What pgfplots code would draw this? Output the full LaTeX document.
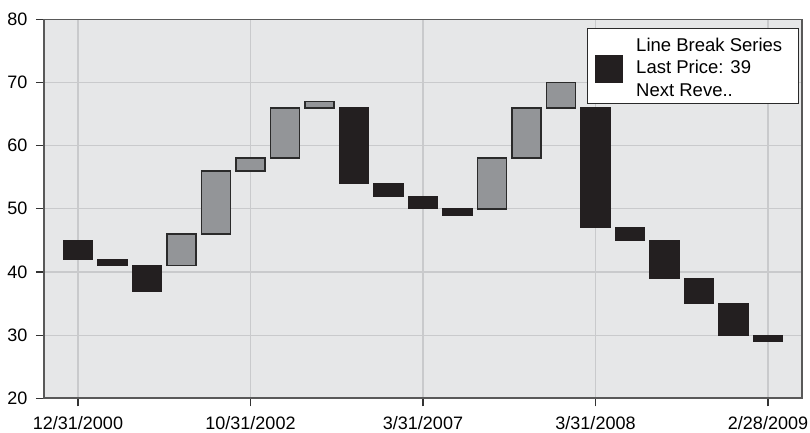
\documentclass[border=0pt]{standalone}
\usepackage{pgfplots}
\pgfplotsset{compat=1.18}
\usepackage{pgfplotstable}
\usepackage{fontspec}
\setmainfont{Liberation Sans}

\definecolor{bgc}{HTML}{E6E7E8}
\definecolor{gridc}{HTML}{C9CACC}
\definecolor{dncol}{HTML}{231F20}
\definecolor{upcol}{HTML}{939598}
\definecolor{edge}{HTML}{2A2A2A}

% line break boxes: base, height of falling box, height of rising box
\pgfplotstableread{
x  low dn up
0  42  3  0
1  41  1  0
2  37  4  0
3  41  0  5
4  46  0  10
5  56  0  2
6  58  0  8
7  66  0  1
8  54  12 0
9  52  2  0
10 50  2  0
11 49  1  0
12 50  0  8
13 58  0  8
14 66  0  4
15 47  19 0
16 45  2  0
17 39  6  0
18 35  4  0
19 30  5  0
20 29  1  0
}\boxdata

\begin{document}
\begin{tikzpicture}
\path[use as bounding box] (-22pt,-17.35pt) rectangle (383pt,199.15pt);
\begin{axis}[
    at={(0,0)}, anchor=south west,
    scale only axis, width=379pt, height=189.5pt,
    ybar stacked, bar width=0.85,
    xmin=-0.985, xmax=20.985, ymin=20, ymax=80,
    xtick={0,5,10,15,20},
    xticklabels={12/31/2000,10/31/2002,3/31/2007,3/31/2008,2/28/2009},
    ytick={20,30,...,80},
    grid=major,
    major grid style={draw=gridc, line width=0.6pt},
    axis background/.style={fill=bgc},
    axis line style={draw=black!65, line width=0.8pt},
    tick align=outside, major tick length=4pt,
    tick style={draw=black!80, line width=0.6pt},
    tick pos=left,
    tick label style={font=\fontsize{9}{11}\selectfont, text=black},
    xticklabel style={yshift=-1.5pt},
    yticklabel style={xshift=-0.8pt},
    /pgf/number format/assume math mode=true,
    legend style={at={(0.7164,0.978)}, anchor=north west, draw=edge, line width=0.5pt,
        fill=white, inner xsep=0pt, inner ysep=3.5pt, column sep=0pt, row sep=0pt,
        nodes={inner sep=0pt, text depth=0pt}, font=\fontsize{9.25}{11.35}\selectfont},
    legend cell align=left,
]
\addplot[fill=none, draw=none, forget plot] table[x=x, y=low] {\boxdata};
\addplot[fill=dncol, draw=dncol, line width=0.6pt,
    legend image code/.code={\path[draw=none, fill=none] (0pt,0pt) -- (24.35pt,0pt);
        \fill[dncol, draw=none] (3.5pt,-8.5pt) rectangle (17.5pt,5.5pt);}]
    table[x=x, y=dn] {\boxdata};
\addplot[fill=upcol, draw=edge, line width=0.8pt, forget plot] table[x=x, y=up] {\boxdata};
\addlegendentry{\begin{tabular}[b]{@{}l@{}}Line Break Series\\Last Price: 39\\Next Reve..\end{tabular}\hspace*{8pt}}
\end{axis}
\end{tikzpicture}
\end{document}
